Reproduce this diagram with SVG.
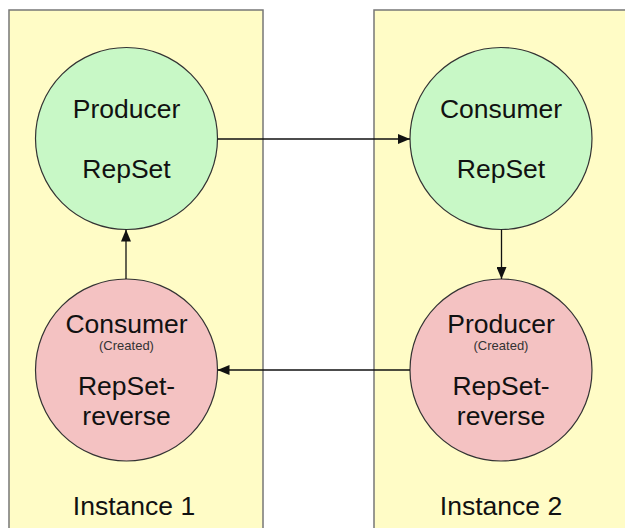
<svg xmlns="http://www.w3.org/2000/svg" width="625" height="528" viewBox="0 0 625 528">
<style>
.inst{fill:#FFFCC6;stroke:#777;stroke-width:1.5}
.g{fill:#C8F8C6;stroke:#333;stroke-width:1.2}
.r{fill:#F4C2C2;stroke:#333;stroke-width:1.2}
text{font-family:"Liberation Sans",Arial,sans-serif;fill:#111;text-anchor:middle}
.t{font-size:26.5px}
.s{font-size:13px;fill:#333}
.c{stroke:#111;stroke-width:1.3;fill:none;marker-end:url(#ah)}
</style>
<defs>
<marker id="ah" markerWidth="12" markerHeight="10" refX="12" refY="5" orient="auto" markerUnits="userSpaceOnUse">
<path d="M0,0 L12,5 L0,10 Z" fill="#111"/>
</marker>
</defs>
<rect width="625" height="528" fill="#fff"/>
<g id="instance1"><rect class="inst" x="9" y="10" width="254" height="530"/><text class="t" x="134" y="515">Instance 1</text></g>
<g id="instance2"><rect class="inst" x="374" y="10" width="270" height="530"/><text class="t" x="501" y="515">Instance 2</text></g>
<g id="producer-repset"><circle class="g" cx="126.5" cy="138.5" r="91"/><text class="t" x="126.5" y="118">Producer</text><text class="t" x="126.5" y="178">RepSet</text></g>
<g id="consumer-repset"><circle class="g" cx="501" cy="138.5" r="91"/><text class="t" x="501" y="118">Consumer</text><text class="t" x="501" y="178">RepSet</text></g>
<g id="consumer-reverse"><circle class="r" cx="126.5" cy="370" r="91"/><text class="t" x="126.5" y="333">Consumer</text><text class="s" x="126.5" y="350">(Created)</text><text class="t" x="126.5" y="395">RepSet-</text><text class="t" x="126.5" y="425">reverse</text></g>
<g id="producer-reverse"><circle class="r" cx="501" cy="370" r="91"/><text class="t" x="501" y="333">Producer</text><text class="s" x="501" y="350">(Created)</text><text class="t" x="501" y="395">RepSet-</text><text class="t" x="501" y="425">reverse</text></g>
<g id="connectors">
<line class="c" x1="217.5" y1="139" x2="410" y2="139"/>
<line class="c" x1="410" y1="370" x2="217.5" y2="370"/>
<line class="c" x1="126" y1="279" x2="126" y2="229.5"/>
<line class="c" x1="501.5" y1="229.5" x2="501.5" y2="279"/>
</g>
</svg>
